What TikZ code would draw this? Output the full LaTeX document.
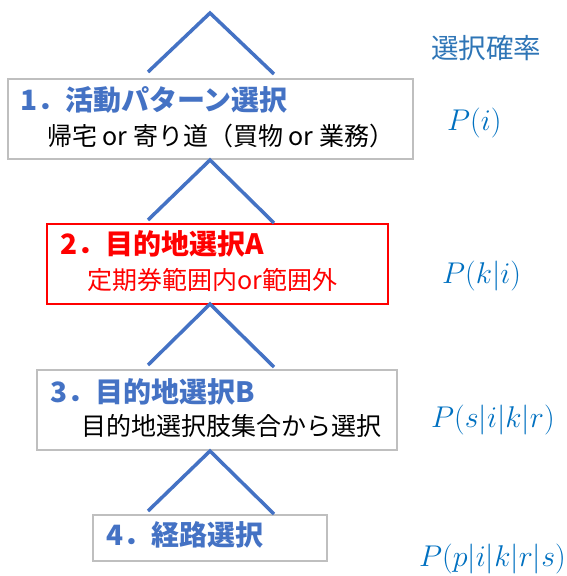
\RequirePackage{fix-cm}
\documentclass[tikz,border=0pt]{standalone}
\usepackage{fontspec}
\newfontfamily\jp{Noto Sans CJK JP}
\definecolor{lineblue}{HTML}{4472C4}
\definecolor{boxgray}{HTML}{BFBFBF}
\definecolor{boxred}{HTML}{FF0000}
\definecolor{mathblue}{HTML}{0070C0}
\definecolor{headblue}{HTML}{2E75B6}
\tikzset{
  branch/.style={draw=lineblue, line width=3.5pt},
  graybox/.style={draw=boxgray, line width=2pt, inner sep=0, fill=none},
  redbox/.style={draw=boxred, line width=2.2pt, inner sep=0, fill=none},
  titletext/.style={anchor=base west, inner sep=0, font=\jp\bfseries\fontsize{28}{34}\selectfont},
  subtext/.style={anchor=base west, inner sep=0, font=\jp\fontsize{25}{30}\selectfont},
  probtext/.style={anchor=base west, inner sep=0, text=mathblue, font=\fontsize{30}{36}\selectfont},
}
\begin{document}
\begin{tikzpicture}[x=1pt,y=-1pt]
\useasboundingbox (0,0) rectangle (566,576);

% boxes
\node[graybox, minimum width=405pt, minimum height=80pt] (b1) at (210.5,119) {};
\node[redbox, minimum width=341pt, minimum height=80pt] (b2) at (217.5,264) {};
\node[graybox, minimum width=360pt, minimum height=80pt] (b3) at (217,410) {};
\node[graybox, minimum width=234pt, minimum height=46pt] (b4) at (210,538) {};

% branch coordinates
\coordinate (a0) at (210,13);
\coordinate (l0) at (148,72);
\coordinate (r0) at (274,74);
\coordinate (a1) at (210,160);
\coordinate (l1) at (148,220);
\coordinate (r1) at (274,223);
\coordinate (a2) at (210,304);
\coordinate (l2) at (148,365);
\coordinate (r2) at (274,367);
\coordinate (a3) at (210,451);
\coordinate (l3) at (148,511);
\coordinate (r3) at (274,514);

\draw[branch] (l0) -- (a0) -- (r0);
\draw[branch] (l1) -- (a1) -- (r1);
\draw[branch] (l2) -- (a2) -- (r2);
\draw[branch] (l3) -- (a3) -- (r3);

% texts
\node[titletext, text=lineblue] (t1) at (20,110.6) {1．活動パターン選択};
\node[subtext, text=black] (s1) at (47,145.5) {帰宅 or 寄り道（買物 or 業務）};

\node[titletext, text=boxred] (t2) at (60,254.6) {2．目的地選択A};
\node[subtext, text=boxred, font=\jp\fontsize{25}{30}\selectfont] (s2) at (87,289.5) {定期券範囲内or範囲外};

\node[titletext, text=lineblue] (t3) at (50,402) {3．目的地選択B};
\node[subtext, text=black] (s3) at (81,435) {目的地選択肢集合から選択};

\node[titletext, text=lineblue] (t4) at (106,545.6) {4．経路選択};

% probabilities
\node[anchor=base west, inner sep=0, text=headblue, font=\jp\fontsize{27.5}{33}\selectfont] (h) at (431,58.8) {選択確率};
\node[probtext] (p1) at (447,130) {$P(i)$};
\node[probtext] (p2) at (442,283) {$P(k|i)$};
\node[probtext] (p3) at (431,427) {$P(s|i|k|r)$};
\node[probtext] (p4) at (419,566) {$P(p|i|k|r|s)$};
\end{tikzpicture}
\end{document}
